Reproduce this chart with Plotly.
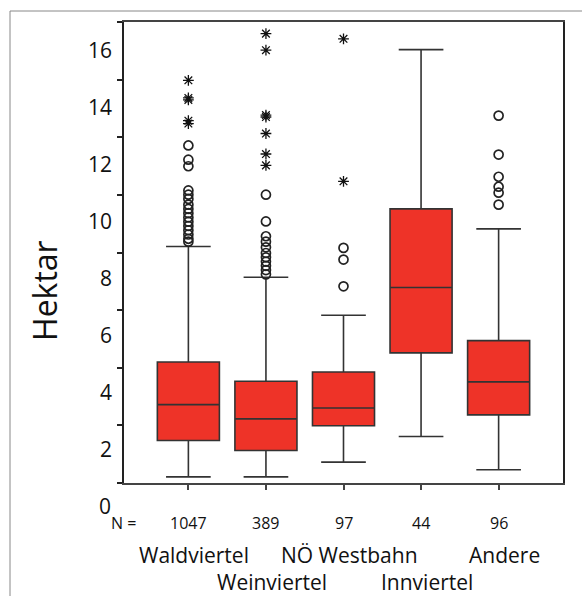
import numpy as np
import plotly.graph_objects as go

# ---------------- data (Hektar) ----------------
regions = ["Waldviertel", "Weinviertel", "NÖ Westbahn", "Innviertel", "Andere"]
n_counts = ["1047", "389", "97", "44", "96"]
lower_whisker = [1.03, 1.03, 1.55, 2.45, 1.28]
q1_vals = [2.31, 1.96, 2.83, 5.39, 3.21]
medians = [3.57, 3.07, 3.45, 7.69, 4.37]
q3_vals = [5.07, 4.39, 4.72, 10.45, 5.82]
upper_whisker = [9.13, 8.05, 6.71, 16.05, 9.75]

# outliers (circles) and extreme values (asterisks)
wald_circles = [12.68, 12.18, 11.95, 11.1, 10.95, 10.8, 10.6, 10.45, 10.3, 10.15,
                10.0, 9.85, 9.7, 9.55, 9.4, 9.3]
wald_stars = [14.97, 14.35, 14.28, 13.55, 13.45]
wein_circles = [10.95, 10.01, 9.49, 9.3, 9.1, 8.9, 8.75, 8.6, 8.45, 8.3, 8.15]
wein_stars = [16.61, 16.03, 13.75, 13.68, 13.10, 12.38, 11.98]
west_circles = [9.08, 8.67, 7.73]
west_stars = [16.43, 11.42]
inn_circles = []
inn_stars = []
andere_circles = [13.73, 12.36, 11.58, 11.23, 11.02, 10.6]
andere_stars = []

circles = [wald_circles, wein_circles, west_circles, inn_circles, andere_circles]
stars = [wald_stars, wein_stars, west_stars, inn_stars, andere_stars]

y_tick_vals = [2, 4, 6, 8, 10, 12, 14, 16]

# ---------------- style ----------------
FONT = "Open Sans"
RED = "#EE3328"
Y_LO, Y_HI = 0.816, 17.02
W, H = 582, 596
ML, MR, MT, MB = 124, 19, 22, 113

pos = list(range(1, len(regions) + 1))

fig = go.Figure()
fig.add_trace(go.Box(
    x=pos, q1=q1_vals, median=medians, q3=q3_vals,
    lowerfence=lower_whisker, upperfence=upper_whisker,
    width=0.8, whiskerwidth=0.72, fillcolor=RED,
    line=dict(color="#333333", width=1.6),
    boxpoints=False, showlegend=False, hoverinfo="skip",
))

cx, cy, sx, sy = [], [], [], []
for p, c, s in zip(pos, circles, stars):
    cx += [p] * len(c); cy += c
    sx += [p] * len(s); sy += s

fig.add_trace(go.Scatter(
    x=cx, y=cy, mode="markers", showlegend=False,
    marker=dict(symbol="circle-open", size=9, color="#222",
                line=dict(width=1.7, color="#222")),
))
fig.add_trace(go.Scatter(
    x=sx, y=sy, mode="markers", showlegend=False,
    marker=dict(symbol="asterisk-open", size=9, color="#111",
                line=dict(width=1.3, color="#111")),
))

fig.update_layout(
    width=W, height=H,
    margin=dict(l=ML, r=MR, t=MT, b=MB),
    paper_bgcolor="white", plot_bgcolor="white",
    font=dict(family=FONT, color="#111"),
    xaxis=dict(
        range=[0.17, 5.83], tickvals=pos, showticklabels=False,
        ticks="outside", ticklen=5, tickwidth=1.5, tickcolor="#444",
        showline=True, linecolor="#444", linewidth=1.5, mirror=True,
        showgrid=False, zeroline=False,
    ),
    yaxis=dict(
        range=[Y_LO, Y_HI], tickvals=y_tick_vals,
        ticks="outside", ticklen=6, tickcolor="rgba(0,0,0,0)",
        tickfont=dict(size=21, family=FONT, color="#111"),
        minor=dict(tickmode="array", tickvals=list(np.linspace(Y_LO, Y_HI, 9)),
                   ticks="outside", ticklen=5, tickwidth=1.5, tickcolor="#222"),
        showline=True, linecolor="#222", linewidth=1.5, mirror=True,
        showgrid=False, zeroline=False,
    ),
)

# "0" label below the axis bottom (value 0 on the y scale)
fig.add_annotation(x=-0.025, xref="paper", y=(0 - Y_LO) / (Y_HI - Y_LO), yref="paper",
                   text="0", showarrow=False, xanchor="right", yanchor="middle",
                   font=dict(size=21, family=FONT, color="#111"))
# y title
fig.add_annotation(x=-0.18, xref="paper", y=0.4187, yref="paper", text="Hektar",
                   textangle=-90, showarrow=False, xanchor="center", yanchor="middle",
                   font=dict(size=32, family=FONT, color="#111"))

def py(px):
    return (H - MB - px) / (H - MB - MT)

# N row
fig.add_annotation(x=(123 - ML) / (W - ML - MR), xref="paper", y=py(523), yref="paper",
                   text="N =", showarrow=False, xanchor="center", yanchor="middle",
                   font=dict(size=16, family=FONT, color="#111"))
for p, n in zip(pos, n_counts):
    fig.add_annotation(x=p, xref="x", y=py(523), yref="paper", text=n,
                       showarrow=False, xanchor="center", yanchor="middle",
                       font=dict(size=16, family=FONT, color="#111"))
# staggered region names
for i, (p, name) in enumerate(zip(pos, regions)):
    row_y = 555 if i % 2 == 0 else 582
    fig.add_annotation(x=p, xref="x", y=py(row_y), yref="paper", text=name,
                       showarrow=False, xanchor="center", yanchor="middle", xshift=6,
                       font=dict(size=21, family=FONT, color="#111"))

# outer frame of the figure
fig.add_shape(type="rect", xref="paper", yref="paper",
              x0=(10 - ML) / (W - ML - MR), x1=2.0,
              y0=-2.0, y1=py(11), line=dict(color="#888", width=1), layer="below")

fig.write_html("out.html", config={"displayModeBar": False},
               post_script="document.body.style.margin='0px';"
                           "document.body.style.overflow='hidden';")
